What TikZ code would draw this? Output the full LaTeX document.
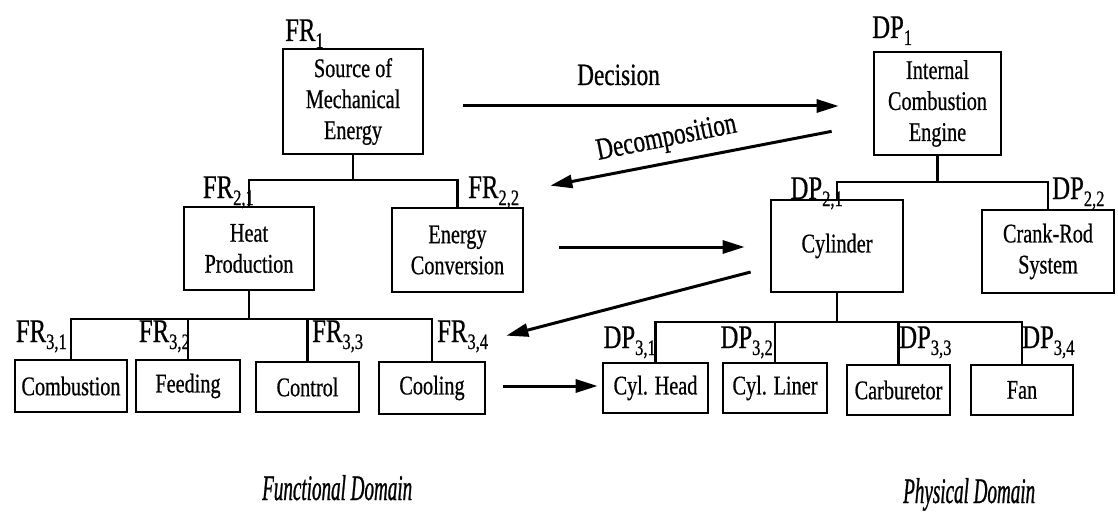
\documentclass[tikz,border=0pt]{standalone}
\usepackage{fontspec}
\setmainfont{Liberation Serif}[FakeStretch=0.75,FakeBold=0.6]
\newfontfamily\domfont{Liberation Serif}[FakeStretch=0.53,FakeBold=0.7]
\usetikzlibrary{arrows.meta,calc}
% lowered, smaller index after FR / DP
\newcommand\sbx[1]{\raisebox{-7pt}{\fontsize{22}{22}\selectfont #1}}
\begin{document}
\begin{tikzpicture}[x=1pt,y=-1pt,
  box/.style={draw,line width=2.7pt,align=center,inner sep=0pt,
              font=\fontsize{27}{31}\selectfont},
  conn/.style={line width=2.5pt},
  arr/.style={line width=3pt,-{Triangle[length=22pt,width=13pt]}},
  lbl/.style={inner sep=0pt,font=\fontsize{33}{33}\selectfont},
  big/.style={inner sep=0pt,font=\fontsize{31}{31}\selectfont},
  dom/.style={inner sep=0pt,anchor=base west,font=\fontsize{36}{36}\domfont\itshape}]
\useasboundingbox (0,0) rectangle (1118,524);

% ---------- functional domain ----------
\node[box,minimum width=140pt,minimum height=105pt] (fr1) at (353,101.5) {Source of\\Mechanical\\Energy};
\node[box,minimum width=130pt,minimum height=83pt] (fr21) at (249,248.5) {Heat\\Production};
\node[box,minimum width=131pt,minimum height=84pt] (fr22) at (457.5,250) {Energy\\Conversion};
\node[box,minimum width=112pt,minimum height=52pt] (fr31) at (71,386) {Combustion};
\node[box,minimum width=104pt,minimum height=52pt] (fr32) at (188,386) {Feeding};
\node[box,minimum width=103pt,minimum height=50pt] (fr33) at (307.5,387) {Control};
\node[box,minimum width=106pt,minimum height=52pt] (fr34) at (432,388) {Cooling};

\coordinate (j1) at (0,180);
\coordinate (j2) at (0,319);
\draw[conn] (fr1.south) -- (fr1.south |- j1);
\draw[conn] (fr21.north) -- (fr21.north |- j1) -- (fr22.north |- j1) -- (fr22.north);
\draw[conn] (fr21.south) -- (fr21.south |- j2);
\draw[conn] (fr31.north) -- (fr31.north |- j2) -- (fr34.north |- j2) -- (fr34.north);
\draw[conn] (fr32.north) -- (fr32.north |- j2);
\draw[conn] (fr33.north) -- (fr33.north |- j2);

\node[lbl,anchor=base west] (lfr1)  at (285,41)  {FR\sbx{1}};
\node[lbl,anchor=base east] (lfr21) at (254,198) {FR\sbx{2,1}};
\node[lbl,anchor=base west] (lfr22) at (468,198) {FR\sbx{2,2}};
\node[lbl,anchor=base east] (lfr31) at (67,342)  {FR\sbx{3,1}};
\node[lbl,anchor=base east] (lfr32) at (190,342) {FR\sbx{3,2}};
\node[lbl,anchor=base west] (lfr33) at (312,342) {FR\sbx{3,3}};
\node[lbl,anchor=base west] (lfr34) at (437,342) {FR\sbx{3,4}};

% ---------- physical domain ----------
\node[box,minimum width=127pt,minimum height=103pt] (dp1) at (937.5,103.5) {Internal\\Combustion\\Engine};
\node[box,minimum width=132pt,minimum height=92pt] (dp21) at (837,246) {Cylinder};
\node[box,minimum width=132pt,minimum height=83pt] (dp22) at (1048,251.5) {Crank-Rod\\System};
\node[box,minimum width=105pt,minimum height=50pt] (dp31) at (655.5,388) {Cyl. Head};
\node[box,minimum width=104pt,minimum height=50pt] (dp32) at (775,388) {Cyl. Liner};
\node[box,minimum width=103pt,minimum height=50pt] (dp33) at (898.5,390) {Carburetor};
\node[box,minimum width=102pt,minimum height=50pt] (dp34) at (1022,390) {Fan};

\coordinate (k1) at (0,182);
\coordinate (k2) at (0,322);
\draw[conn] (dp1.south) -- (dp1.south |- k1);
\draw[conn] (dp21.north) -- (dp21.north |- k1) -- (dp22.north |- k1) -- (dp22.north);
\draw[conn] (dp21.south) -- (dp21.south |- k2);
\draw[conn] (dp31.north) -- (dp31.north |- k2) -- (dp34.north |- k2) -- (dp34.north);
\draw[conn] (dp32.north) -- (dp32.north |- k2);
\draw[conn] (dp33.north) -- (dp33.north |- k2);

\node[lbl,anchor=base west] (ldp1)  at (872,38)   {DP\sbx{1}};
\node[lbl,anchor=base east] (ldp21) at (843,199)  {DP\sbx{2,1}};
\node[lbl,anchor=base west] (ldp22) at (1052,199) {DP\sbx{2,2}};
\node[lbl,anchor=base east] (ldp31) at (656,348)  {DP\sbx{3,1}};
\node[lbl,anchor=base east] (ldp32) at (773,348)  {DP\sbx{3,2}};
\node[lbl,anchor=base west] (ldp33) at (899,348)  {DP\sbx{3,3}};
\node[lbl,anchor=base west] (ldp34) at (1022,348) {DP\sbx{3,4}};

% ---------- zigzag between the domains ----------
\draw[arr] ($(fr1.east)+(39,4.5)$) -- ($(dp1.west)+(-34,2.5)$);
\node[big,anchor=base west] (dec) at (577,85) {Decision};
\draw[arr] ($(dp1.south west)+(-41,-25)$) -- ($(fr22.north east)+(26,-21)$);
\node[big,anchor=base,rotate=11.3] (decomp) at (668,146) {Decomposition};
\draw[arr] ($(fr22.east)+(35,-3)$) -- ($(dp21.west)+(-25,1)$);
\draw[arr] ($(dp21.west)+(-19,26)$) -- ($(fr34.north east)+(20,-25)$);
\draw[arr] ($(fr34.east)+(17,-2)$) -- ($(dp31.west)+(-4,-2)$);

\node[dom] (fdom) at (262,500) {Functional Domain};
\node[dom] (pdom) at (903,503) {Physical Domain};
\end{tikzpicture}
\end{document}
